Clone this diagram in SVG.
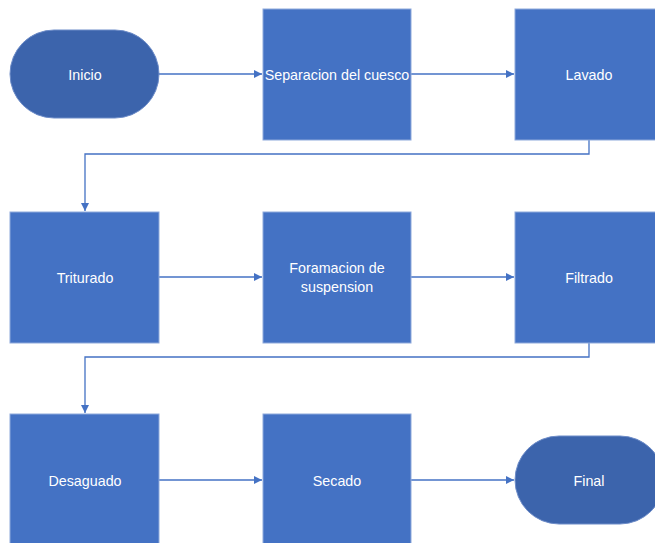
<svg xmlns="http://www.w3.org/2000/svg" width="655" height="543" viewBox="0 0 655 543">
<defs>
<style>
.box{fill:#4472C4;stroke:#8EA9DB;stroke-width:1}
.term{fill:#3C64AC;stroke:#6D8CC8;stroke-width:1}
.lbl{fill:#FFFFFF;font-family:"Liberation Sans",Arial,sans-serif;font-size:14.3px;text-anchor:middle;dominant-baseline:central}
.con{fill:none;stroke:#4472C4;stroke-width:1.3}
</style>
<marker id="arr" viewBox="0 0 10 10" refX="10" refY="5" markerWidth="8" markerHeight="8" markerUnits="userSpaceOnUse" orient="auto">
<path d="M0,0 L10,5 L0,10 Z" fill="#4472C4"/>
</marker>
</defs>
<rect width="655" height="543" fill="#FFFFFF"/>
<g id="connectors">
<line class="con" x1="159" y1="74" x2="262" y2="74" marker-end="url(#arr)"/>
<line class="con" x1="411" y1="74" x2="514" y2="74" marker-end="url(#arr)"/>
<polyline class="con" points="589,140 589,154 85,154 85,211" marker-end="url(#arr)"/>
<line class="con" x1="159" y1="277" x2="262" y2="277" marker-end="url(#arr)"/>
<line class="con" x1="411" y1="277" x2="514" y2="277" marker-end="url(#arr)"/>
<polyline class="con" points="589,343 589,357 85,357 85,413" marker-end="url(#arr)"/>
<line class="con" x1="159" y1="480" x2="262" y2="480" marker-end="url(#arr)"/>
<line class="con" x1="411" y1="480" x2="514" y2="480" marker-end="url(#arr)"/>
</g>
<g id="inicio">
<rect class="term" x="10" y="30" width="149" height="88" rx="44" ry="44"/>
<text class="lbl" x="85" y="75">Inicio</text>
</g>
<g id="separacion">
<rect class="box" x="263" y="9" width="148" height="131"/>
<text class="lbl" x="337" y="75">Separacion del cuesco</text>
</g>
<g id="lavado">
<rect class="box" x="515" y="9" width="148" height="131"/>
<text class="lbl" x="589" y="75">Lavado</text>
</g>
<g id="triturado">
<rect class="box" x="10" y="212" width="149" height="131"/>
<text class="lbl" x="85" y="278">Triturado</text>
</g>
<g id="foramacion">
<rect class="box" x="263" y="212" width="148" height="131"/>
<text class="lbl" x="337" y="268">Foramacion de</text>
<text class="lbl" x="337" y="287">suspension</text>
</g>
<g id="filtrado">
<rect class="box" x="515" y="212" width="148" height="131"/>
<text class="lbl" x="589" y="278">Filtrado</text>
</g>
<g id="desaguado">
<rect class="box" x="10" y="414" width="149" height="135"/>
<text class="lbl" x="85" y="481">Desaguado</text>
</g>
<g id="secado">
<rect class="box" x="263" y="414" width="148" height="135"/>
<text class="lbl" x="337" y="481">Secado</text>
</g>
<g id="final">
<rect class="term" x="515" y="436" width="149" height="88" rx="44" ry="44"/>
<text class="lbl" x="589" y="481">Final</text>
</g>
</svg>
